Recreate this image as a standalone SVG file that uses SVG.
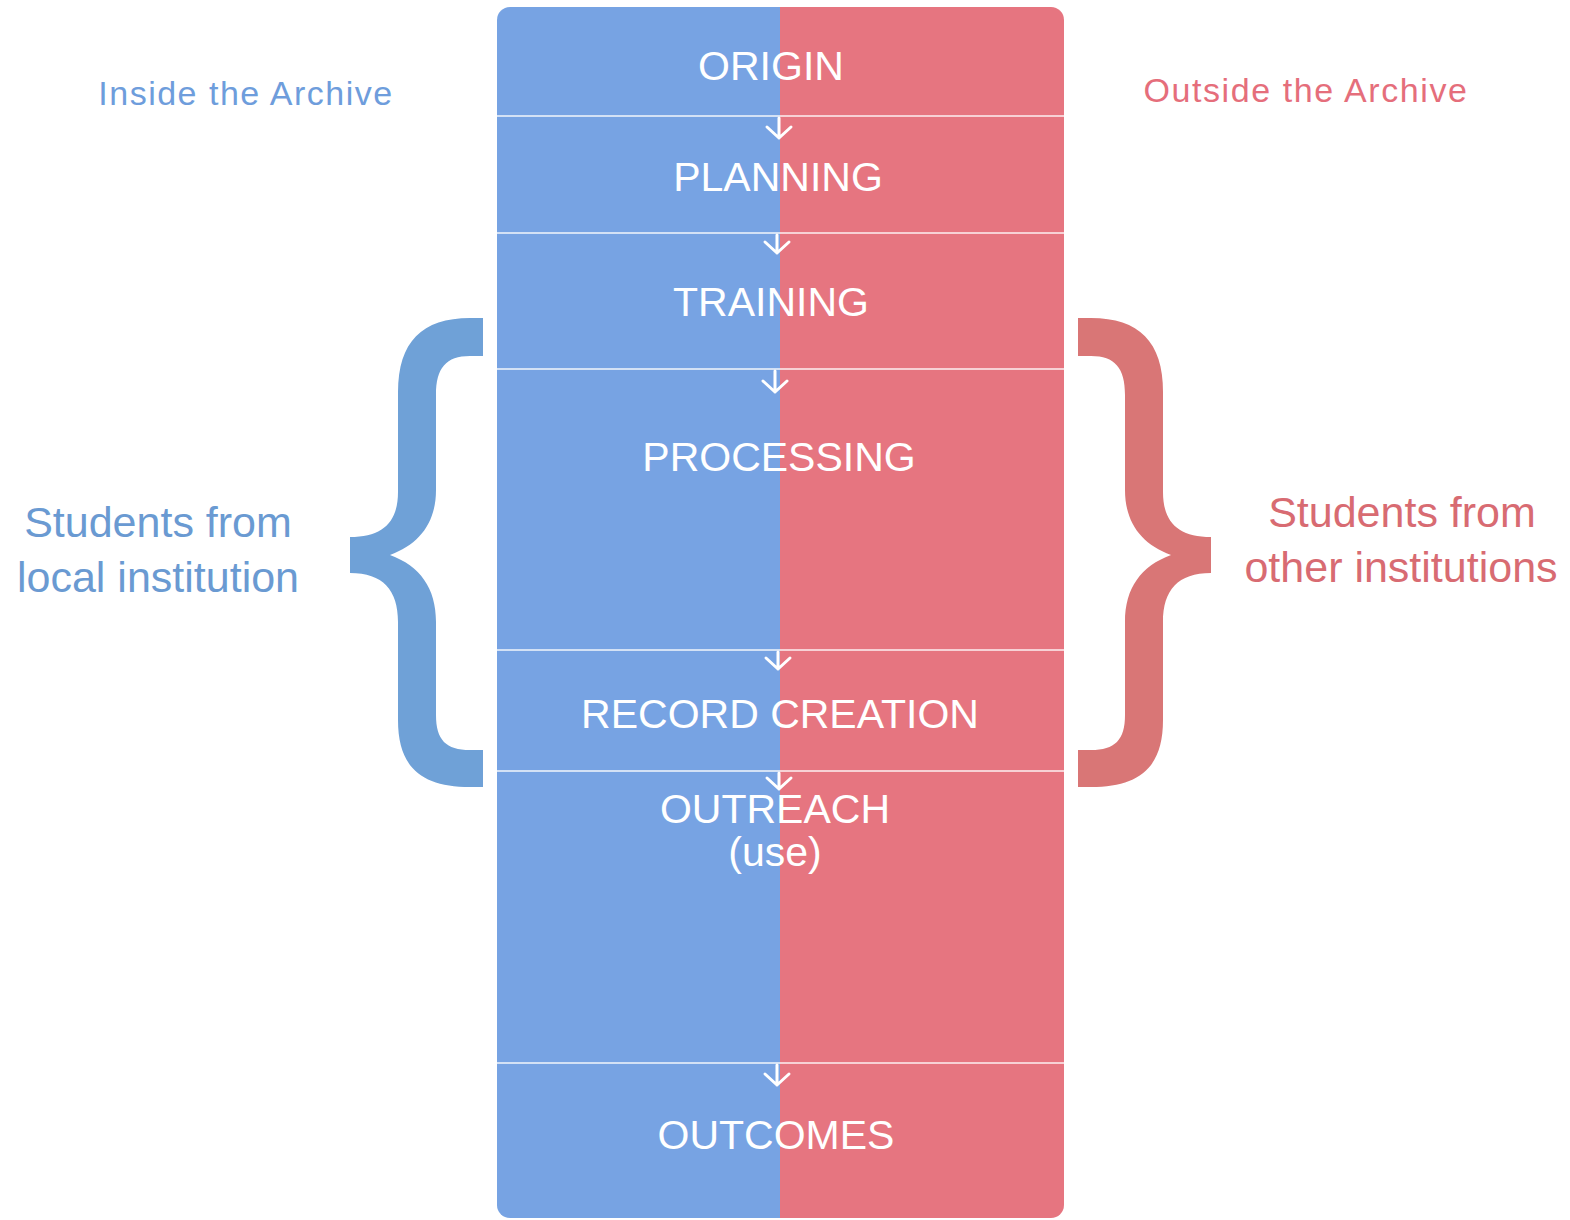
<svg xmlns="http://www.w3.org/2000/svg" width="1570" height="1220" viewBox="0 0 1570 1220">
<style>
.stage{font-family:"Liberation Sans",Arial,sans-serif;font-size:41px;fill:#ffffff;text-anchor:middle}
.sep{stroke:#ffffff;stroke-width:1.6;opacity:0.9}
.arr{fill:none;stroke:#ffffff;stroke-width:3;stroke-linecap:round;stroke-linejoin:round}
.hdr{font-family:"Liberation Sans",Arial,sans-serif;font-size:34px;text-anchor:middle}
.side{font-family:"Liberation Sans",Arial,sans-serif;font-size:43px;text-anchor:middle}
</style>
<defs>
<clipPath id="col"><rect x="497" y="7" width="567" height="1211" rx="13" ry="13"/></clipPath>
</defs>
<rect width="1570" height="1220" fill="#ffffff"/>
<g id="column" clip-path="url(#col)">
<rect x="497" y="7" width="283" height="1211" fill="#77A3E3"/>
<rect x="780" y="7" width="284" height="1211" fill="#E67580"/>
</g>
<g id="separators">
<line class="sep" x1="497" y1="116" x2="1064" y2="116"/>
<line class="sep" x1="497" y1="233" x2="1064" y2="233"/>
<line class="sep" x1="497" y1="369" x2="1064" y2="369"/>
<line class="sep" x1="497" y1="650" x2="1064" y2="650"/>
<line class="sep" x1="497" y1="771" x2="1064" y2="771"/>
<line class="sep" x1="497" y1="1063" x2="1064" y2="1063"/>
</g>
<g id="node-origin"><text class="stage" x="771" y="80">ORIGIN</text></g>
<g id="node-planning"><text class="stage" x="778" y="191">PLANNING</text></g>
<g id="node-training"><text class="stage" x="771" y="316">TRAINING</text></g>
<g id="node-processing"><text class="stage" x="779" y="471">PROCESSING</text></g>
<g id="node-record-creation"><text class="stage" x="780" y="728">RECORD CREATION</text></g>
<g id="node-outreach"><text class="stage" x="775" y="823">OUTREACH</text><text class="stage" x="775" y="866">(use)</text></g>
<g id="node-outcomes"><text class="stage" x="776" y="1149">OUTCOMES</text></g>
<g id="connectors">
<path class="arr" d="M779,118 V138 M767,127 L779,138 L791,127"/>
<path class="arr" d="M777,235 V253 M765,242 L777,253 L789,242"/>
<path class="arr" d="M775,371 V392 M763,381 L775,392 L787,381"/>
<path class="arr" d="M778,652 V669 M766,658 L778,669 L790,658"/>
<path class="arr" d="M779,773 V789 M767,778 L779,789 L791,778"/>
<path class="arr" d="M777,1065 V1085 M765,1074 L777,1085 L789,1074"/>
</g>
<g id="label-inside"><text class="hdr" x="246" y="105" fill="#6E9DDC" letter-spacing="1.5">Inside the Archive</text></g>
<g id="label-outside"><text class="hdr" x="1306" y="102" fill="#E56E7B" letter-spacing="1.6">Outside the Archive</text></g>
<g id="brace-left">
<path fill="#6FA1D7" d="M483,318 L470,318 C422,318 398,342 398,392 L398,492 C398,522 383,537 350,537 L350,573 C383,573 398,590 398,622 L398,720 C398,768 422,787 470,787 L483,787 L483,750 L470,750 C446,750 436,740 436,715 L436,622 C436,588 420,566 390,555 C420,544 436,522 436,490 L436,395 C436,368 446,356 470,356 L483,356 Z"/>
</g>
<g id="brace-right">
<path fill="#D97676" transform="translate(1561,0) scale(-1,1)" d="M483,318 L470,318 C422,318 398,342 398,392 L398,492 C398,522 383,537 350,537 L350,573 C383,573 398,590 398,622 L398,720 C398,768 422,787 470,787 L483,787 L483,750 L470,750 C446,750 436,740 436,715 L436,622 C436,588 420,566 390,555 C420,544 436,522 436,490 L436,395 C436,368 446,356 470,356 L483,356 Z"/>
</g>
<g id="label-local"><text class="side" x="158" y="537" fill="#6A9AD2">Students from</text><text class="side" x="158" y="592" fill="#6A9AD2">local institution</text></g>
<g id="label-other"><text class="side" x="1402" y="527" fill="#D86B72">Students from</text><text class="side" x="1401" y="582" fill="#D86B72">other institutions</text></g>
</svg>
